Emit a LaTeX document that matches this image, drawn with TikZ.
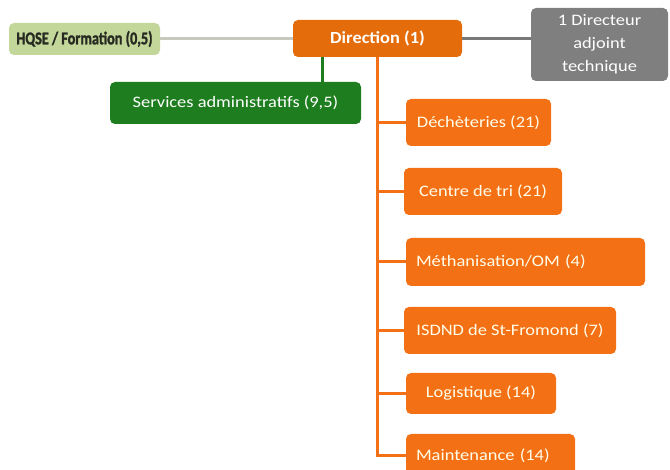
\documentclass[tikz,border=0pt]{standalone}
\usepackage{fontspec}
\setmainfont{Carlito}
\newfontfamily\widefont[FakeStretch=1.15]{Carlito}
\newfontfamily\dirfont[FakeStretch=1.08]{Carlito}
\newfontfamily\narrowfont[FakeStretch=0.79,BoldFeatures={FakeBold=1.5}]{Carlito}
\definecolor{orgA}{RGB}{228,108,10}
\definecolor{orgB}{RGB}{244,112,20}
\definecolor{hqse}{RGB}{196,215,155}
\definecolor{hqsetext}{RGB}{38,42,32}
\definecolor{grbox}{RGB}{127,127,127}
\definecolor{grline}{RGB}{120,120,120}
\definecolor{ltline}{RGB}{200,200,190}
\definecolor{svc}{RGB}{30,125,30}
\begin{document}
\begin{tikzpicture}[x=1pt,y=1pt,
  box/.style={rectangle,rounded corners=5pt,inner sep=0pt,align=center,font=\widefont\fontsize{16}{23}\selectfont},
  orgbox/.style={box,fill=orgB,text=white!92!yellow},
  conn/.style={line width=3pt}]
\useasboundingbox (0,0) rectangle (670,-470);
\node[box,fill=hqse,text=hqsetext,font=\narrowfont\fontsize{18}{20}\selectfont\bfseries,minimum width=151,minimum height=32] (hqse) at (84.5,-39) {HQSE / Formation (0,5)};
\node[box,fill=orgA,text=white,font=\dirfont\fontsize{17}{19}\selectfont\bfseries,minimum width=169,minimum height=37] (dir) at (377.5,-38.5) {Direction (1)};
\node[box,fill=grbox,text=white,minimum width=137,minimum height=73] (dat) at (599.5,-44.5) {1 Directeur\\adjoint\\technique};
\node[box,fill=svc,text=white,minimum width=251,minimum height=42] (svc) at (235.5,-103) {Services administratifs (9,5)};
\node[orgbox,minimum width=145,minimum height=47] (dech) at (478.5,-122.5) {Déchèteries (21)};
\node[orgbox,minimum width=158,minimum height=47] (tri) at (483,-191.5) {Centre de tri (21)};
\node[orgbox,minimum width=239,minimum height=48,text width=219,align=left] (meth) at (525.5,-262) {Méthanisation/OM (4)};
\node[orgbox,minimum width=212,minimum height=47] (isdnd) at (510,-330.5) {ISDND de St-Fromond (7)};
\node[orgbox,minimum width=150,minimum height=41] (log) at (481,-393.5) {Logistique (14)};
\node[orgbox,minimum width=169,minimum height=44,text width=149,align=left] (maint) at (490.5,-456) {Maintenance (14)};
\draw[conn,ltline] (hqse.east) -- (dir.west |- hqse.east);
\draw[conn,grline] (dir.east) -- (dat.west |- dir.east);
\draw[conn,svc] ([xshift=-55pt]dir.south) -- ([xshift=-55pt]dir.south |- svc.north);
\foreach \b in {dech,tri,meth,isdnd,log,maint}
  \draw[conn,orgB] (dir.south) |- (\b.west);
\end{tikzpicture}
\end{document}
